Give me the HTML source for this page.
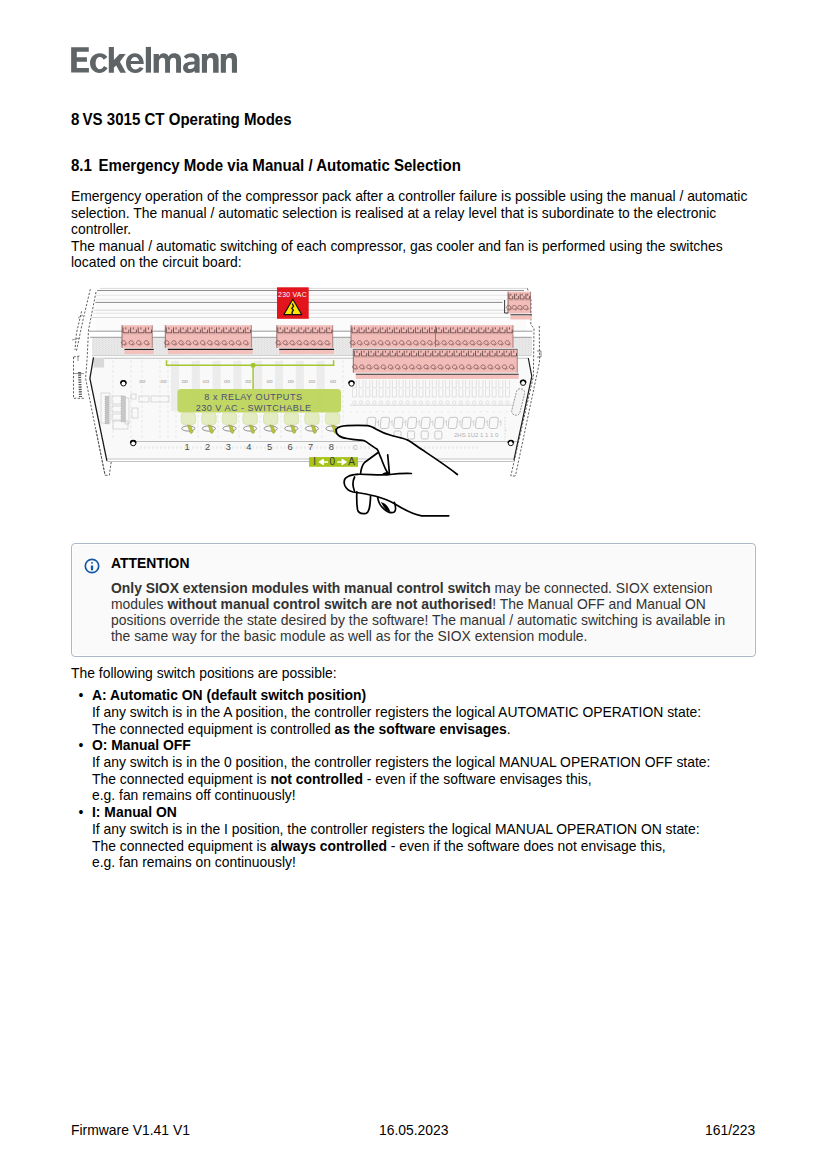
<!DOCTYPE html>
<html><head><meta charset="utf-8">
<style>
html,body{margin:0;padding:0;background:#fff;}
body{width:827px;height:1169px;position:relative;overflow:hidden;font-family:"Liberation Sans",sans-serif;color:#000;}
.l{position:absolute;white-space:nowrap;font-size:13.9px;line-height:16px;}
.h{position:absolute;white-space:nowrap;font-weight:bold;font-size:15.05px;line-height:18px;transform:scaleY(1.05);transform-origin:0 13.9px;}
b{font-weight:bold;}
.g{color:#333;}
</style></head><body>
<svg style="position:absolute;left:0;top:0" width="260" height="90" fill="#5f6467"><path d="M71.15 47.2H88.75V51.8H76.8V57.3H86.9V61.7H76.8V68H88.9V72.6H71.15Z"/><path d="M107.4 57.1C105.8 54.6 103.2 53.25 99.8 53.25C94 53.25 90 57.5 90 63.1C90 68.8 94 73 99.8 73C103.3 73 106 71.2 107.6 68.1L104 66.1C103 68 101.6 69.2 99.6 69.2C97.2 69.2 95.6 66.6 95.6 63.1C95.6 59.6 97.2 56.9 99.8 56.9C101.5 56.9 103 58 103.8 59.8Z"/><path d="M108.8 46.9H113.9V60.1L119.5 54H125.7L119.9 61.8L126 72.65H120.2L116.2 65.6L113.9 67.6V72.65H108.8Z"/><path fill-rule="evenodd" d="M143.8 64.1C143.8 57.7 140.3 53.25 134.9 53.25C129.5 53.25 126 57.5 126 63.1C126 68.9 129.6 73 135.2 73C139 73 142 71.2 143.6 68.3L139.8 66.9C138.8 68.5 137.2 69.4 135.2 69.4C132.5 69.4 130.8 67.3 130.7 64.1ZM130.8 61C131.1 58.6 132.7 56.9 134.9 56.9C137.2 56.9 138.8 58.6 139 61Z"/><rect x="145.8" y="46.9" width="5.2" height="25.75"/><path d="M153.6 54H158.9V56.2C160 54.3 161.6 53.25 163.6 53.25C166 53.25 167.6 54.4 168.6 56.4C169.8 54.4 171.6 53.25 174 53.25C178.5 53.25 181 55.6 181 59.8V72.65H176.1V61C176.1 58.9 175.2 57.8 173.4 57.8C171.4 57.8 170 59.4 170 61.8V72.65H165.1V61C165.1 58.9 164.3 57.8 162.6 57.8C160.5 57.8 158.9 59.4 158.9 61.8V72.65H153.6Z"/><path fill-rule="evenodd" d="M183.8 56.5C185.8 54.3 188.8 53.25 192 53.25C197 53.25 199.6 55.5 199.6 59.5V72.8H194.9L194.6 71C193.3 72.3 191.3 73 189 73C185.3 73 183.1 70.9 183.1 67.7C183.1 64.3 185.7 62.3 190.3 61.8L194.5 61.4V60.3C194.5 58.2 193 57.2 190.5 57.2C188.8 57.2 187.4 57.8 186.3 58.9ZM194.5 64.3L190.8 64.7C188.8 64.9 187.8 65.8 187.8 67.2C187.8 68.4 188.7 69.1 190.3 69.1C192.7 69.1 194.5 67.5 194.5 65.3Z"/><path d="M201.9 53.9H207V56.2C208.2 54.3 210 53.1 212.6 53.1C217.1 53.1 218.6 55.4 218.6 59.8V72.8H213.1V61C213.1 58.9 212.2 57.8 210.4 57.8C209 57.8 207 59.4 207 61.8V72.8H201.9Z"/><path d="M220.8 53.9H225.9V56.2C227.1 54.3 228.9 53.1 231.5 53.1C235.5 53.1 237 55.4 237 59.8V72.8H231.9V61C231.9 58.9 231.0 57.8 229.2 57.8C227.9 57.8 225.9 59.4 225.9 61.8V72.8H220.8Z"/></svg>
<svg style="position:absolute;left:0;top:0" width="827" height="560"><defs><pattern id="hatch" width="3" height="2" patternUnits="userSpaceOnUse"><rect x="0" y="0" width="0.8" height="0.8" fill="#d6d6d6"/><rect x="1.5" y="1" width="0.8" height="0.8" fill="#dcdcdc"/></pattern></defs><rect x="92" y="338" width="440" height="18" fill="#e9e9e9"/><rect x="92" y="338" width="440" height="18" fill="url(#hatch)"/><rect x="96" y="291" width="430" height="40" fill="#fbfbfb"/><line x1="100.0" y1="288.4" x2="527.4" y2="288.4" stroke="#cfcfcf" stroke-width="0.8"/><line x1="97.0" y1="290.5" x2="524.0" y2="290.5" stroke="#808080" stroke-width="0.9"/><line x1="96.0" y1="295.3" x2="524.0" y2="295.3" stroke="#e0e0e0" stroke-width="0.8"/><line x1="95.5" y1="299.4" x2="524.0" y2="299.4" stroke="#e6e6e6" stroke-width="0.8"/><line x1="95.3" y1="302.4" x2="502.4" y2="302.4" stroke="#808080" stroke-width="0.9"/><line x1="93.5" y1="310.2" x2="527.0" y2="310.2" stroke="#cfcfcf" stroke-width="0.8"/><line x1="92.3" y1="313.2" x2="527.0" y2="313.2" stroke="#dedede" stroke-width="0.8"/><line x1="91.5" y1="317.5" x2="527.0" y2="317.5" stroke="#d2d2d2" stroke-width="0.8"/><line x1="89.0" y1="331.2" x2="532.5" y2="331.2" stroke="#8c8c8c" stroke-width="0.9"/><line x1="90.0" y1="337.3" x2="531.6" y2="337.3" stroke="#8c8c8c" stroke-width="0.9"/><line x1="92.0" y1="355.6" x2="531.0" y2="355.6" stroke="#c8c8c8" stroke-width="0.8"/><line x1="93.5" y1="358.3" x2="528.0" y2="358.3" stroke="#a8a8a8" stroke-width="0.9"/><path d="M93.6 358.8 L528 358.8 L533 372 L513.5 459 L107 459 L98.6 419.5 L89.9 378.4 Z" fill="#f9f9f9"/><line x1="113" y1="360" x2="113" y2="440" stroke="#dcdcdc" stroke-width="0.6" stroke-dasharray="3 2"/><line x1="131" y1="360" x2="131" y2="440" stroke="#dcdcdc" stroke-width="0.6" stroke-dasharray="3 2"/><line x1="142" y1="360" x2="142" y2="440" stroke="#dcdcdc" stroke-width="0.6" stroke-dasharray="3 2"/><line x1="160" y1="360" x2="160" y2="440" stroke="#dcdcdc" stroke-width="0.6" stroke-dasharray="3 2"/><line x1="168" y1="360" x2="168" y2="440" stroke="#dcdcdc" stroke-width="0.6" stroke-dasharray="3 2"/><line x1="176" y1="360" x2="176" y2="440" stroke="#dcdcdc" stroke-width="0.6" stroke-dasharray="3 2"/><line x1="198" y1="360" x2="198" y2="440" stroke="#dcdcdc" stroke-width="0.6" stroke-dasharray="3 2"/><line x1="218" y1="360" x2="218" y2="440" stroke="#dcdcdc" stroke-width="0.6" stroke-dasharray="3 2"/><line x1="239" y1="360" x2="239" y2="440" stroke="#dcdcdc" stroke-width="0.6" stroke-dasharray="3 2"/><line x1="260" y1="360" x2="260" y2="440" stroke="#dcdcdc" stroke-width="0.6" stroke-dasharray="3 2"/><line x1="281" y1="360" x2="281" y2="440" stroke="#dcdcdc" stroke-width="0.6" stroke-dasharray="3 2"/><line x1="301" y1="360" x2="301" y2="440" stroke="#dcdcdc" stroke-width="0.6" stroke-dasharray="3 2"/><line x1="322" y1="360" x2="322" y2="440" stroke="#dcdcdc" stroke-width="0.6" stroke-dasharray="3 2"/><line x1="343" y1="360" x2="343" y2="440" stroke="#dcdcdc" stroke-width="0.6" stroke-dasharray="3 2"/><rect x="171.0" y="361" width="8" height="50" fill="#ececec"/><rect x="191.8" y="361" width="8" height="50" fill="#ececec"/><rect x="212.6" y="361" width="8" height="50" fill="#ececec"/><rect x="233.4" y="361" width="8" height="50" fill="#ececec"/><rect x="254.2" y="361" width="8" height="50" fill="#ececec"/><rect x="275.0" y="361" width="8" height="50" fill="#ececec"/><rect x="295.8" y="361" width="8" height="50" fill="#ececec"/><rect x="316.6" y="361" width="8" height="50" fill="#ececec"/><text x="142.3" y="383" font-size="5.5" fill="#9a9a9a" text-anchor="middle" font-family="Liberation Sans">oo</text><text x="163.5" y="383" font-size="5.5" fill="#9a9a9a" text-anchor="middle" font-family="Liberation Sans">oo</text><text x="184.7" y="383" font-size="5.5" fill="#9a9a9a" text-anchor="middle" font-family="Liberation Sans">oo</text><text x="205.9" y="383" font-size="5.5" fill="#9a9a9a" text-anchor="middle" font-family="Liberation Sans">oo</text><text x="227.1" y="383" font-size="5.5" fill="#9a9a9a" text-anchor="middle" font-family="Liberation Sans">oo</text><text x="248.3" y="383" font-size="5.5" fill="#9a9a9a" text-anchor="middle" font-family="Liberation Sans">oo</text><text x="269.5" y="383" font-size="5.5" fill="#9a9a9a" text-anchor="middle" font-family="Liberation Sans">oo</text><text x="290.7" y="383" font-size="5.5" fill="#9a9a9a" text-anchor="middle" font-family="Liberation Sans">oo</text><text x="311.9" y="383" font-size="5.5" fill="#9a9a9a" text-anchor="middle" font-family="Liberation Sans">oo</text><text x="333.1" y="383" font-size="5.5" fill="#9a9a9a" text-anchor="middle" font-family="Liberation Sans">oo</text><g fill="none" stroke="#c2c2c2" stroke-width="0.6"><rect x="101" y="393" width="9" height="30"/><rect x="112" y="396" width="12" height="8"/><rect x="112" y="406" width="12" height="6"/><rect x="112" y="414" width="12" height="6"/><rect x="125" y="398" width="4" height="26"/><rect x="113" y="421" width="15" height="8"/><rect x="132" y="408" width="6" height="10"/><rect x="131" y="394" width="5" height="5"/><rect x="139" y="396" width="10" height="6"/><rect x="151" y="396" width="18" height="6"/></g><rect x="105" y="396" width="4" height="28" fill="#c4c4c4" stroke="#aaa" stroke-width="0.5" stroke-dasharray="1 1"/><rect x="121" y="396" width="4.5" height="26" fill="#c8c8c8" stroke="#aaa" stroke-width="0.5" stroke-dasharray="1 1"/><rect x="93.5" y="358" width="10.6" height="9.5" fill="#d9d9d9"/><g fill="none" stroke="#d0d0d0" stroke-width="0.6"><path d="M352.5 380 v8 h4 v-8 M352.5 389 v8 h4 v-8"/><circle cx="354.5" cy="402.6" r="1.7"/><path d="M359.1 380 v8 h4 v-8 M359.1 389 v8 h4 v-8"/><circle cx="361.1" cy="402.6" r="1.7"/><path d="M365.8 380 v8 h4 v-8 M365.8 389 v8 h4 v-8"/><circle cx="367.8" cy="402.6" r="1.7"/><path d="M372.4 380 v8 h4 v-8 M372.4 389 v8 h4 v-8"/><circle cx="374.4" cy="402.6" r="1.7"/><path d="M379.1 380 v8 h4 v-8 M379.1 389 v8 h4 v-8"/><circle cx="381.1" cy="402.6" r="1.7"/><path d="M385.8 380 v8 h4 v-8 M385.8 389 v8 h4 v-8"/><circle cx="387.8" cy="402.6" r="1.7"/><path d="M392.4 380 v8 h4 v-8 M392.4 389 v8 h4 v-8"/><circle cx="394.4" cy="402.6" r="1.7"/><path d="M399.1 380 v8 h4 v-8 M399.1 389 v8 h4 v-8"/><circle cx="401.1" cy="402.6" r="1.7"/><path d="M405.7 380 v8 h4 v-8 M405.7 389 v8 h4 v-8"/><circle cx="407.7" cy="402.6" r="1.7"/><path d="M412.4 380 v8 h4 v-8 M412.4 389 v8 h4 v-8"/><circle cx="414.4" cy="402.6" r="1.7"/><path d="M419.0 380 v8 h4 v-8 M419.0 389 v8 h4 v-8"/><circle cx="421.0" cy="402.6" r="1.7"/><path d="M425.6 380 v8 h4 v-8 M425.6 389 v8 h4 v-8"/><circle cx="427.6" cy="402.6" r="1.7"/><path d="M432.3 380 v8 h4 v-8 M432.3 389 v8 h4 v-8"/><circle cx="434.3" cy="402.6" r="1.7"/><path d="M438.9 380 v8 h4 v-8 M438.9 389 v8 h4 v-8"/><circle cx="440.9" cy="402.6" r="1.7"/><path d="M445.6 380 v8 h4 v-8 M445.6 389 v8 h4 v-8"/><circle cx="447.6" cy="402.6" r="1.7"/><path d="M452.2 380 v8 h4 v-8 M452.2 389 v8 h4 v-8"/><circle cx="454.2" cy="402.6" r="1.7"/><path d="M458.9 380 v8 h4 v-8 M458.9 389 v8 h4 v-8"/><circle cx="460.9" cy="402.6" r="1.7"/><path d="M465.6 380 v8 h4 v-8 M465.6 389 v8 h4 v-8"/><circle cx="467.6" cy="402.6" r="1.7"/><path d="M472.2 380 v8 h4 v-8 M472.2 389 v8 h4 v-8"/><circle cx="474.2" cy="402.6" r="1.7"/><path d="M478.9 380 v8 h4 v-8 M478.9 389 v8 h4 v-8"/><circle cx="480.9" cy="402.6" r="1.7"/><path d="M485.5 380 v8 h4 v-8 M485.5 389 v8 h4 v-8"/><circle cx="487.5" cy="402.6" r="1.7"/><path d="M492.1 380 v8 h4 v-8 M492.1 389 v8 h4 v-8"/><circle cx="494.1" cy="402.6" r="1.7"/><path d="M498.8 380 v8 h4 v-8 M498.8 389 v8 h4 v-8"/><circle cx="500.8" cy="402.6" r="1.7"/><path d="M505.5 380 v8 h4 v-8 M505.5 389 v8 h4 v-8"/><circle cx="507.5" cy="402.6" r="1.7"/></g><line x1="350" y1="405.2" x2="520" y2="405.2" stroke="#cdcdcd" stroke-width="0.7"/><line x1="350" y1="411.7" x2="520" y2="411.7" stroke="#dcdcdc" stroke-width="0.7" stroke-dasharray="1.5 5"/><g fill="none" stroke="#b8b8b8" stroke-width="0.75"><rect x="367.0" y="417.3" width="8.5" height="11.2" rx="2" transform="skewX(-6)" transform-origin="371.0 423"/><path d="M376.5 422 h2 M378.5 420 v6" stroke="#c8c8c8"/><rect x="380.6" y="417.3" width="8.5" height="11.2" rx="2" transform="skewX(-6)" transform-origin="384.6 423"/><path d="M390.1 422 h2 M392.1 420 v6" stroke="#c8c8c8"/><rect x="394.2" y="417.3" width="8.5" height="11.2" rx="2" transform="skewX(-6)" transform-origin="398.2 423"/><path d="M403.7 422 h2 M405.7 420 v6" stroke="#c8c8c8"/><rect x="407.8" y="417.3" width="8.5" height="11.2" rx="2" transform="skewX(-6)" transform-origin="411.8 423"/><path d="M417.3 422 h2 M419.3 420 v6" stroke="#c8c8c8"/><rect x="421.4" y="417.3" width="8.5" height="11.2" rx="2" transform="skewX(-6)" transform-origin="425.4 423"/><path d="M430.9 422 h2 M432.9 420 v6" stroke="#c8c8c8"/><rect x="435.0" y="417.3" width="8.5" height="11.2" rx="2" transform="skewX(-6)" transform-origin="439.0 423"/><path d="M444.5 422 h2 M446.5 420 v6" stroke="#c8c8c8"/><rect x="448.6" y="417.3" width="8.5" height="11.2" rx="2" transform="skewX(-6)" transform-origin="452.6 423"/><path d="M458.1 422 h2 M460.1 420 v6" stroke="#c8c8c8"/><rect x="462.2" y="417.3" width="8.5" height="11.2" rx="2" transform="skewX(-6)" transform-origin="466.2 423"/><path d="M471.7 422 h2 M473.7 420 v6" stroke="#c8c8c8"/><rect x="475.8" y="417.3" width="8.5" height="11.2" rx="2" transform="skewX(-6)" transform-origin="479.8 423"/><path d="M485.3 422 h2 M487.3 420 v6" stroke="#c8c8c8"/><rect x="489.4" y="417.3" width="8.5" height="11.2" rx="2" transform="skewX(-6)" transform-origin="493.4 423"/><path d="M498.9 422 h2 M500.9 420 v6" stroke="#c8c8c8"/><rect x="394.0" y="431" width="7" height="8" rx="1.5"/><rect x="407.6" y="431" width="7" height="8" rx="1.5"/><rect x="421.2" y="431" width="7" height="8" rx="1.5"/><rect x="434.8" y="431" width="7" height="8" rx="1.5"/></g><text x="454" y="437.2" font-size="6" fill="#b0b0b0" font-family="Liberation Sans">2HS 1U2 1 1 1 0</text><line x1="136" y1="441.5" x2="517" y2="441.5" stroke="#b5b5b5" stroke-width="0.9"/><rect x="107" y="442" width="406" height="16.5" fill="#f9f9f9"/><line x1="140" y1="447.5" x2="480" y2="447.5" stroke="#ececec" stroke-width="2.5" stroke-dasharray="2 2"/><line x1="107" y1="459" x2="513.5" y2="459" stroke="#b8b8b8" stroke-width="0.8"/><line x1="107" y1="461.5" x2="513.5" y2="461.5" stroke="#b0b0b0" stroke-width="0.8"/><path d="M93.5 357.3 L89.9 378.4 L106.9 460.8" fill="none" stroke="#1a1a1a" stroke-width="1.3"/><path d="M90.3 289.2 L83 320 L76.2 352" fill="none" stroke="#444" stroke-width="0.85" stroke-dasharray="2.2 1.6"/><path d="M96 292 L88.5 330 L87.2 357.3 L85.6 378.4 L93.5 418.3 L105.1 475.3" fill="none" stroke="#444" stroke-width="0.85" stroke-dasharray="2.2 1.6"/><path d="M81.6 311.3 L76.5 333 L75 350" fill="none" stroke="#444" stroke-width="0.85" stroke-dasharray="2.2 1.6"/><path d="M111.2 462 L109.3 475.3 L105.1 475.3" fill="none" stroke="#444" stroke-width="0.85" stroke-dasharray="2.2 1.6"/><path d="M96 430 L105.1 475.3" fill="none" stroke="#444" stroke-width="0.85" stroke-dasharray="2.2 1.6"/><path d="M73.5 357 L73.5 398.3 L84 398.3 M73.5 357 L80 356" fill="none" stroke="#444" stroke-width="0.85" stroke-dasharray="2.2 1.6"/><path d="M79.5 372 L80.5 397" stroke="#555" stroke-width="3" stroke-dasharray="1.3 1.1" fill="none"/><path d="M74 373.5 H84 M78 356 v5 M72 340 L80 338 M78 318 l5 -3" stroke="#666" stroke-width="0.7" fill="none"/><path d="M528.3 358 L531.8 376.4 L513.9 460.1" fill="none" stroke="#1a1a1a" stroke-width="1.2"/><path d="M527.4 288.4 L531 300 L530.8 324.3 L534 328.6 L533.4 376.4 L510.8 476 L515.4 476" fill="none" stroke="#444" stroke-width="0.85" stroke-dasharray="2.2 1.6"/><path d="M539.3 326 L539.5 362 L515.4 476" fill="none" stroke="#444" stroke-width="0.85" stroke-dasharray="2.2 1.6"/><path d="M537 351 h4 v6 h-4" stroke="#555" stroke-width="0.7" fill="none"/><rect x="514" y="388.5" width="8.4" height="27" rx="4" transform="rotate(14 518.2 402)" fill="#f4f4f4" stroke="#777" stroke-width="0.7" stroke-dasharray="2 1"/><path d="M505 417 v23 M507 430 h-3" stroke="#ccc" stroke-width="0.6" stroke-dasharray="2 1.2" fill="none"/><circle cx="123.4" cy="383.4" r="2.6" fill="#fff" stroke="#111" stroke-width="1"/><path d="M120.8 383.4 a2.6 2.6 0 0 1 5.2 0" fill="none" stroke="#000" stroke-width="1.6"/><circle cx="133.2" cy="443.2" r="2.6" fill="#fff" stroke="#111" stroke-width="1"/><path d="M130.6 443.2 a2.6 2.6 0 0 1 5.2 0" fill="none" stroke="#000" stroke-width="1.6"/><circle cx="351.5" cy="383.6" r="2.6" fill="#fff" stroke="#111" stroke-width="1"/><path d="M348.9 383.6 a2.6 2.6 0 0 1 5.2 0" fill="none" stroke="#000" stroke-width="1.6"/><circle cx="523.1" cy="382.8" r="2.6" fill="#fff" stroke="#111" stroke-width="1"/><path d="M520.5 382.8 a2.6 2.6 0 0 1 5.2 0" fill="none" stroke="#000" stroke-width="1.6"/><circle cx="510.8" cy="443.1" r="2.6" fill="#fff" stroke="#111" stroke-width="1"/><path d="M508.2 443.1 a2.6 2.6 0 0 1 5.2 0" fill="none" stroke="#000" stroke-width="1.6"/><rect x="122.0" y="325.2" width="30.3" height="22.6" fill="#f2bcb8"/><line x1="122.0" y1="325.2" x2="122.0" y2="347.8" stroke="#7a5250" stroke-width="0.8"/><line x1="152.3" y1="325.2" x2="152.3" y2="347.8" stroke="#8a6260" stroke-width="0.7"/><path d="M123.0 327.4 v5.4 h5.8 v-3.2 M125.8 327.4 v2M130.6 327.4 v5.4 h5.8 v-3.2 M133.4 327.4 v2M138.2 327.4 v5.4 h5.8 v-3.2 M140.9 327.4 v2M145.7 327.4 v5.4 h5.8 v-3.2 M148.5 327.4 v2" stroke="#4a3232" stroke-width="0.75" fill="none"/><line x1="122.5" y1="333.8" x2="151.8" y2="333.8" stroke="#d6a4a0" stroke-width="1"/><path d="M123.6 344.5 a2.2 1.9 0 1 1 0.01 0 M124.4 345.5 l2.8 -1.9M131.2 344.5 a2.2 1.9 0 1 1 0.01 0 M132.0 345.5 l2.8 -1.9M138.7 344.5 a2.2 1.9 0 1 1 0.01 0 M139.5 345.5 l2.8 -1.9M146.3 344.5 a2.2 1.9 0 1 1 0.01 0 M147.1 345.5 l2.8 -1.9" stroke="#6a4646" stroke-width="0.65" fill="none"/><line x1="124.5" y1="349.4" x2="153.7" y2="349.4" stroke="#151515" stroke-width="1.1"/><rect x="124.5" y="350.0" width="29.2" height="4" fill="#f3c0bc"/><rect x="165.3" y="325.2" width="86.1" height="22.6" fill="#f2bcb8"/><line x1="165.3" y1="325.2" x2="165.3" y2="347.8" stroke="#7a5250" stroke-width="0.8"/><line x1="251.4" y1="325.2" x2="251.4" y2="347.8" stroke="#8a6260" stroke-width="0.7"/><path d="M166.3 327.4 v5.4 h5.4 v-3.2 M168.9 327.4 v2M173.5 327.4 v5.4 h5.4 v-3.2 M176.1 327.4 v2M180.7 327.4 v5.4 h5.4 v-3.2 M183.2 327.4 v2M187.8 327.4 v5.4 h5.4 v-3.2 M190.4 327.4 v2M195.0 327.4 v5.4 h5.4 v-3.2 M197.6 327.4 v2M202.2 327.4 v5.4 h5.4 v-3.2 M204.8 327.4 v2M209.4 327.4 v5.4 h5.4 v-3.2 M211.9 327.4 v2M216.5 327.4 v5.4 h5.4 v-3.2 M219.1 327.4 v2M223.7 327.4 v5.4 h5.4 v-3.2 M226.3 327.4 v2M230.9 327.4 v5.4 h5.4 v-3.2 M233.5 327.4 v2M238.1 327.4 v5.4 h5.4 v-3.2 M240.6 327.4 v2M245.2 327.4 v5.4 h5.4 v-3.2 M247.8 327.4 v2" stroke="#4a3232" stroke-width="0.75" fill="none"/><line x1="165.8" y1="333.8" x2="250.9" y2="333.8" stroke="#d6a4a0" stroke-width="1"/><path d="M166.7 344.5 a2.2 1.9 0 1 1 0.01 0 M167.5 345.5 l2.8 -1.9M173.9 344.5 a2.2 1.9 0 1 1 0.01 0 M174.7 345.5 l2.8 -1.9M181.0 344.5 a2.2 1.9 0 1 1 0.01 0 M181.8 345.5 l2.8 -1.9M188.2 344.5 a2.2 1.9 0 1 1 0.01 0 M189.0 345.5 l2.8 -1.9M195.4 344.5 a2.2 1.9 0 1 1 0.01 0 M196.2 345.5 l2.8 -1.9M202.6 344.5 a2.2 1.9 0 1 1 0.01 0 M203.4 345.5 l2.8 -1.9M209.7 344.5 a2.2 1.9 0 1 1 0.01 0 M210.5 345.5 l2.8 -1.9M216.9 344.5 a2.2 1.9 0 1 1 0.01 0 M217.7 345.5 l2.8 -1.9M224.1 344.5 a2.2 1.9 0 1 1 0.01 0 M224.9 345.5 l2.8 -1.9M231.3 344.5 a2.2 1.9 0 1 1 0.01 0 M232.1 345.5 l2.8 -1.9M238.4 344.5 a2.2 1.9 0 1 1 0.01 0 M239.2 345.5 l2.8 -1.9M245.6 344.5 a2.2 1.9 0 1 1 0.01 0 M246.4 345.5 l2.8 -1.9" stroke="#6a4646" stroke-width="0.65" fill="none"/><line x1="167.8" y1="349.4" x2="252.8" y2="349.4" stroke="#151515" stroke-width="1.1"/><rect x="167.8" y="350.0" width="85.0" height="4" fill="#f3c0bc"/><rect x="276.8" y="325.2" width="55.9" height="22.6" fill="#f2bcb8"/><line x1="276.8" y1="325.2" x2="276.8" y2="347.8" stroke="#7a5250" stroke-width="0.8"/><line x1="332.7" y1="325.2" x2="332.7" y2="347.8" stroke="#8a6260" stroke-width="0.7"/><path d="M277.8 327.4 v5.4 h5.2 v-3.2 M280.3 327.4 v2M284.8 327.4 v5.4 h5.2 v-3.2 M287.3 327.4 v2M291.8 327.4 v5.4 h5.2 v-3.2 M294.3 327.4 v2M298.8 327.4 v5.4 h5.2 v-3.2 M301.3 327.4 v2M305.8 327.4 v5.4 h5.2 v-3.2 M308.2 327.4 v2M312.7 327.4 v5.4 h5.2 v-3.2 M315.2 327.4 v2M319.7 327.4 v5.4 h5.2 v-3.2 M322.2 327.4 v2M326.7 327.4 v5.4 h5.2 v-3.2 M329.2 327.4 v2" stroke="#4a3232" stroke-width="0.75" fill="none"/><line x1="277.3" y1="333.8" x2="332.2" y2="333.8" stroke="#d6a4a0" stroke-width="1"/><path d="M278.1 344.5 a2.2 1.9 0 1 1 0.01 0 M278.9 345.5 l2.8 -1.9M285.1 344.5 a2.2 1.9 0 1 1 0.01 0 M285.9 345.5 l2.8 -1.9M292.1 344.5 a2.2 1.9 0 1 1 0.01 0 M292.9 345.5 l2.8 -1.9M299.1 344.5 a2.2 1.9 0 1 1 0.01 0 M299.9 345.5 l2.8 -1.9M306.0 344.5 a2.2 1.9 0 1 1 0.01 0 M306.8 345.5 l2.8 -1.9M313.0 344.5 a2.2 1.9 0 1 1 0.01 0 M313.8 345.5 l2.8 -1.9M320.0 344.5 a2.2 1.9 0 1 1 0.01 0 M320.8 345.5 l2.8 -1.9M327.0 344.5 a2.2 1.9 0 1 1 0.01 0 M327.8 345.5 l2.8 -1.9" stroke="#6a4646" stroke-width="0.65" fill="none"/><line x1="279.3" y1="349.4" x2="334.1" y2="349.4" stroke="#151515" stroke-width="1.1"/><rect x="279.3" y="350.0" width="54.8" height="4" fill="#f3c0bc"/><rect x="351.0" y="325.2" width="162.0" height="22.6" fill="#f2bcb8"/><line x1="351.0" y1="325.2" x2="351.0" y2="347.8" stroke="#7a5250" stroke-width="0.8"/><line x1="513.0" y1="325.2" x2="513.0" y2="347.8" stroke="#8a6260" stroke-width="0.7"/><path d="M352.0 327.4 v5.4 h5.2 v-3.2 M354.5 327.4 v2M359.0 327.4 v5.4 h5.2 v-3.2 M361.6 327.4 v2M366.1 327.4 v5.4 h5.2 v-3.2 M368.6 327.4 v2M373.1 327.4 v5.4 h5.2 v-3.2 M375.7 327.4 v2M380.2 327.4 v5.4 h5.2 v-3.2 M382.7 327.4 v2M387.2 327.4 v5.4 h5.2 v-3.2 M389.7 327.4 v2M394.3 327.4 v5.4 h5.2 v-3.2 M396.8 327.4 v2M401.3 327.4 v5.4 h5.2 v-3.2 M403.8 327.4 v2M408.3 327.4 v5.4 h5.2 v-3.2 M410.9 327.4 v2M415.4 327.4 v5.4 h5.2 v-3.2 M417.9 327.4 v2M422.4 327.4 v5.4 h5.2 v-3.2 M425.0 327.4 v2M429.5 327.4 v5.4 h5.2 v-3.2 M432.0 327.4 v2M436.5 327.4 v5.4 h5.2 v-3.2 M439.0 327.4 v2M443.6 327.4 v5.4 h5.2 v-3.2 M446.1 327.4 v2M450.6 327.4 v5.4 h5.2 v-3.2 M453.1 327.4 v2M457.7 327.4 v5.4 h5.2 v-3.2 M460.2 327.4 v2M464.7 327.4 v5.4 h5.2 v-3.2 M467.2 327.4 v2M471.7 327.4 v5.4 h5.2 v-3.2 M474.3 327.4 v2M478.8 327.4 v5.4 h5.2 v-3.2 M481.3 327.4 v2M485.8 327.4 v5.4 h5.2 v-3.2 M488.3 327.4 v2M492.9 327.4 v5.4 h5.2 v-3.2 M495.4 327.4 v2M499.9 327.4 v5.4 h5.2 v-3.2 M502.4 327.4 v2M507.0 327.4 v5.4 h5.2 v-3.2 M509.5 327.4 v2" stroke="#4a3232" stroke-width="0.75" fill="none"/><line x1="351.5" y1="333.8" x2="512.5" y2="333.8" stroke="#d6a4a0" stroke-width="1"/><path d="M352.3 344.5 a2.2 1.9 0 1 1 0.01 0 M353.1 345.5 l2.8 -1.9M359.4 344.5 a2.2 1.9 0 1 1 0.01 0 M360.2 345.5 l2.8 -1.9M366.4 344.5 a2.2 1.9 0 1 1 0.01 0 M367.2 345.5 l2.8 -1.9M373.5 344.5 a2.2 1.9 0 1 1 0.01 0 M374.3 345.5 l2.8 -1.9M380.5 344.5 a2.2 1.9 0 1 1 0.01 0 M381.3 345.5 l2.8 -1.9M387.5 344.5 a2.2 1.9 0 1 1 0.01 0 M388.3 345.5 l2.8 -1.9M394.6 344.5 a2.2 1.9 0 1 1 0.01 0 M395.4 345.5 l2.8 -1.9M401.6 344.5 a2.2 1.9 0 1 1 0.01 0 M402.4 345.5 l2.8 -1.9M408.7 344.5 a2.2 1.9 0 1 1 0.01 0 M409.5 345.5 l2.8 -1.9M415.7 344.5 a2.2 1.9 0 1 1 0.01 0 M416.5 345.5 l2.8 -1.9M422.8 344.5 a2.2 1.9 0 1 1 0.01 0 M423.6 345.5 l2.8 -1.9M429.8 344.5 a2.2 1.9 0 1 1 0.01 0 M430.6 345.5 l2.8 -1.9M436.8 344.5 a2.2 1.9 0 1 1 0.01 0 M437.6 345.5 l2.8 -1.9M443.9 344.5 a2.2 1.9 0 1 1 0.01 0 M444.7 345.5 l2.8 -1.9M450.9 344.5 a2.2 1.9 0 1 1 0.01 0 M451.7 345.5 l2.8 -1.9M458.0 344.5 a2.2 1.9 0 1 1 0.01 0 M458.8 345.5 l2.8 -1.9M465.0 344.5 a2.2 1.9 0 1 1 0.01 0 M465.8 345.5 l2.8 -1.9M472.1 344.5 a2.2 1.9 0 1 1 0.01 0 M472.9 345.5 l2.8 -1.9M479.1 344.5 a2.2 1.9 0 1 1 0.01 0 M479.9 345.5 l2.8 -1.9M486.1 344.5 a2.2 1.9 0 1 1 0.01 0 M486.9 345.5 l2.8 -1.9M493.2 344.5 a2.2 1.9 0 1 1 0.01 0 M494.0 345.5 l2.8 -1.9M500.2 344.5 a2.2 1.9 0 1 1 0.01 0 M501.0 345.5 l2.8 -1.9M507.3 344.5 a2.2 1.9 0 1 1 0.01 0 M508.1 345.5 l2.8 -1.9" stroke="#6a4646" stroke-width="0.65" fill="none"/><line x1="435.5" y1="326" x2="435.5" y2="347" stroke="#6a4a48" stroke-width="0.6"/><line x1="438" y1="350" x2="438" y2="372" stroke="#6a4a48" stroke-width="0.6"/><rect x="353.3" y="349.2" width="164.0" height="23.5" fill="#f2bcb8"/><line x1="353.3" y1="349.2" x2="353.3" y2="372.7" stroke="#7a5250" stroke-width="0.8"/><line x1="517.3" y1="349.2" x2="517.3" y2="372.7" stroke="#8a6260" stroke-width="0.7"/><path d="M354.3 350.7 v5.4 h5.3 v-3.2 M356.9 350.7 v2M361.4 350.7 v5.4 h5.3 v-3.2 M364.0 350.7 v2M368.6 350.7 v5.4 h5.3 v-3.2 M371.1 350.7 v2M375.7 350.7 v5.4 h5.3 v-3.2 M378.3 350.7 v2M382.8 350.7 v5.4 h5.3 v-3.2 M385.4 350.7 v2M390.0 350.7 v5.4 h5.3 v-3.2 M392.5 350.7 v2M397.1 350.7 v5.4 h5.3 v-3.2 M399.6 350.7 v2M404.2 350.7 v5.4 h5.3 v-3.2 M406.8 350.7 v2M411.3 350.7 v5.4 h5.3 v-3.2 M413.9 350.7 v2M418.5 350.7 v5.4 h5.3 v-3.2 M421.0 350.7 v2M425.6 350.7 v5.4 h5.3 v-3.2 M428.2 350.7 v2M432.7 350.7 v5.4 h5.3 v-3.2 M435.3 350.7 v2M439.9 350.7 v5.4 h5.3 v-3.2 M442.4 350.7 v2M447.0 350.7 v5.4 h5.3 v-3.2 M449.6 350.7 v2M454.1 350.7 v5.4 h5.3 v-3.2 M456.7 350.7 v2M461.3 350.7 v5.4 h5.3 v-3.2 M463.8 350.7 v2M468.4 350.7 v5.4 h5.3 v-3.2 M471.0 350.7 v2M475.5 350.7 v5.4 h5.3 v-3.2 M478.1 350.7 v2M482.6 350.7 v5.4 h5.3 v-3.2 M485.2 350.7 v2M489.8 350.7 v5.4 h5.3 v-3.2 M492.3 350.7 v2M496.9 350.7 v5.4 h5.3 v-3.2 M499.5 350.7 v2M504.0 350.7 v5.4 h5.3 v-3.2 M506.6 350.7 v2M511.2 350.7 v5.4 h5.3 v-3.2 M513.7 350.7 v2" stroke="#4a3232" stroke-width="0.75" fill="none"/><line x1="353.8" y1="357.1" x2="516.8" y2="357.1" stroke="#d6a4a0" stroke-width="1"/><path d="M354.7 368.7 a2.2 1.9 0 1 1 0.01 0 M355.5 369.7 l2.8 -1.9M361.8 368.7 a2.2 1.9 0 1 1 0.01 0 M362.6 369.7 l2.8 -1.9M368.9 368.7 a2.2 1.9 0 1 1 0.01 0 M369.7 369.7 l2.8 -1.9M376.1 368.7 a2.2 1.9 0 1 1 0.01 0 M376.9 369.7 l2.8 -1.9M383.2 368.7 a2.2 1.9 0 1 1 0.01 0 M384.0 369.7 l2.8 -1.9M390.3 368.7 a2.2 1.9 0 1 1 0.01 0 M391.1 369.7 l2.8 -1.9M397.4 368.7 a2.2 1.9 0 1 1 0.01 0 M398.2 369.7 l2.8 -1.9M404.6 368.7 a2.2 1.9 0 1 1 0.01 0 M405.4 369.7 l2.8 -1.9M411.7 368.7 a2.2 1.9 0 1 1 0.01 0 M412.5 369.7 l2.8 -1.9M418.8 368.7 a2.2 1.9 0 1 1 0.01 0 M419.6 369.7 l2.8 -1.9M426.0 368.7 a2.2 1.9 0 1 1 0.01 0 M426.8 369.7 l2.8 -1.9M433.1 368.7 a2.2 1.9 0 1 1 0.01 0 M433.9 369.7 l2.8 -1.9M440.2 368.7 a2.2 1.9 0 1 1 0.01 0 M441.0 369.7 l2.8 -1.9M447.4 368.7 a2.2 1.9 0 1 1 0.01 0 M448.2 369.7 l2.8 -1.9M454.5 368.7 a2.2 1.9 0 1 1 0.01 0 M455.3 369.7 l2.8 -1.9M461.6 368.7 a2.2 1.9 0 1 1 0.01 0 M462.4 369.7 l2.8 -1.9M468.8 368.7 a2.2 1.9 0 1 1 0.01 0 M469.6 369.7 l2.8 -1.9M475.9 368.7 a2.2 1.9 0 1 1 0.01 0 M476.7 369.7 l2.8 -1.9M483.0 368.7 a2.2 1.9 0 1 1 0.01 0 M483.8 369.7 l2.8 -1.9M490.1 368.7 a2.2 1.9 0 1 1 0.01 0 M490.9 369.7 l2.8 -1.9M497.3 368.7 a2.2 1.9 0 1 1 0.01 0 M498.1 369.7 l2.8 -1.9M504.4 368.7 a2.2 1.9 0 1 1 0.01 0 M505.2 369.7 l2.8 -1.9M511.5 368.7 a2.2 1.9 0 1 1 0.01 0 M512.3 369.7 l2.8 -1.9" stroke="#6a4646" stroke-width="0.65" fill="none"/><line x1="355.8" y1="374.3" x2="518.7" y2="374.3" stroke="#151515" stroke-width="1.1"/><rect x="355.8" y="374.9" width="162.9" height="4" fill="#f3c0bc"/><line x1="353.3" y1="349.4" x2="517.3" y2="349.4" stroke="#555" stroke-width="0.8"/><rect x="508.0" y="291.7" width="22.5" height="21.6" fill="#f2bcb8"/><line x1="508.0" y1="291.7" x2="508.0" y2="313.3" stroke="#7a5250" stroke-width="0.8"/><line x1="530.5" y1="291.7" x2="530.5" y2="313.3" stroke="#8a6260" stroke-width="0.7"/><path d="M509.0 293.7 v5.4 h3.8 v-3.2 M510.8 293.7 v2M514.6 293.7 v5.4 h3.8 v-3.2 M516.4 293.7 v2M520.2 293.7 v5.4 h3.8 v-3.2 M522.1 293.7 v2M525.9 293.7 v5.4 h3.8 v-3.2 M527.7 293.7 v2" stroke="#4a3232" stroke-width="0.75" fill="none"/><line x1="508.5" y1="300.1" x2="530.0" y2="300.1" stroke="#d6a4a0" stroke-width="1"/><path d="M508.6 309.3 a2.2 1.9 0 1 1 0.01 0 M509.4 310.3 l2.8 -1.9M514.2 309.3 a2.2 1.9 0 1 1 0.01 0 M515.0 310.3 l2.8 -1.9M519.9 309.3 a2.2 1.9 0 1 1 0.01 0 M520.7 310.3 l2.8 -1.9M525.5 309.3 a2.2 1.9 0 1 1 0.01 0 M526.3 310.3 l2.8 -1.9" stroke="#6a4646" stroke-width="0.65" fill="none"/><line x1="510.5" y1="314.9" x2="531.9" y2="314.9" stroke="#151515" stroke-width="1.1"/><rect x="510.5" y="315.5" width="21.4" height="4" fill="#f3c0bc"/><path d="M504.6 300 V313 H508" fill="none" stroke="#222" stroke-width="0.9"/><rect x="277" y="287.3" width="31.7" height="31.5" fill="#e2141c"/><text x="292.5" y="296.8" font-size="6.9" fill="#fff" text-anchor="middle" font-family="Liberation Sans" letter-spacing="0.25">230 VAC</text><path d="M292.8 299.2 L301.8 314.6 H283.8 Z" fill="#ffe500" stroke="#111" stroke-width="1.1" stroke-linejoin="round"/><path d="M292.3 303.6 L293.5 306.4 L291.7 308.3 L293.4 310.2 L291.9 312.3 L292.4 314" fill="none" stroke="#111" stroke-width="1.3"/><path d="M166.5 360.3 V365.2 H333.6 V360.3" fill="none" stroke="#a3c631" stroke-width="1.5"/><line x1="253.1" y1="365.2" x2="253.1" y2="389" stroke="#a3c631" stroke-width="1.5"/><circle cx="253.1" cy="365.2" r="2.5" fill="#a3c631"/><rect x="177.4" y="389" width="163.6" height="23.4" rx="3.5" fill="#b8d24c" opacity="0.86"/><text x="204.3" y="399.7" font-size="9.1" fill="#4b4e74" textLength="97.8" lengthAdjust="spacing" font-family="Liberation Sans">8 x RELAY OUTPUTS</text><text x="195.7" y="410.8" font-size="9.1" fill="#4b4e74" textLength="115.3" lengthAdjust="spacing" font-family="Liberation Sans">230 V AC - SWITCHABLE</text><rect x="181.1" y="412.6" width="14.5" height="12" rx="3.5" fill="#e3ebc0" stroke="#cfdca0" stroke-width="0.6"/><ellipse cx="188.3" cy="428.5" rx="6.6" ry="2.6" fill="none" stroke="#666" stroke-width="0.7"/><path d="M187.5 425 L189.9 432.6 Q191.5 434.6 192.9 432 L190.9 426Z" fill="#b9c43c" stroke="#8f9a2a" stroke-width="0.5"/><text x="187.1" y="450" font-size="9.3" fill="#4a4a4a" text-anchor="middle" font-family="Liberation Sans">1</text><rect x="201.7" y="412.6" width="14.5" height="12" rx="3.5" fill="#e3ebc0" stroke="#cfdca0" stroke-width="0.6"/><ellipse cx="208.9" cy="428.5" rx="6.6" ry="2.6" fill="none" stroke="#666" stroke-width="0.7"/><path d="M208.1 425 L210.5 432.6 Q212.1 434.6 213.5 432 L211.5 426Z" fill="#b9c43c" stroke="#8f9a2a" stroke-width="0.5"/><text x="207.7" y="450" font-size="9.3" fill="#4a4a4a" text-anchor="middle" font-family="Liberation Sans">2</text><rect x="222.3" y="412.6" width="14.5" height="12" rx="3.5" fill="#e3ebc0" stroke="#cfdca0" stroke-width="0.6"/><ellipse cx="229.5" cy="428.5" rx="6.6" ry="2.6" fill="none" stroke="#666" stroke-width="0.7"/><path d="M228.7 425 L231.1 432.6 Q232.7 434.6 234.1 432 L232.1 426Z" fill="#b9c43c" stroke="#8f9a2a" stroke-width="0.5"/><text x="228.3" y="450" font-size="9.3" fill="#4a4a4a" text-anchor="middle" font-family="Liberation Sans">3</text><rect x="242.9" y="412.6" width="14.5" height="12" rx="3.5" fill="#e3ebc0" stroke="#cfdca0" stroke-width="0.6"/><ellipse cx="250.1" cy="428.5" rx="6.6" ry="2.6" fill="none" stroke="#666" stroke-width="0.7"/><path d="M249.3 425 L251.7 432.6 Q253.3 434.6 254.7 432 L252.7 426Z" fill="#b9c43c" stroke="#8f9a2a" stroke-width="0.5"/><text x="248.9" y="450" font-size="9.3" fill="#4a4a4a" text-anchor="middle" font-family="Liberation Sans">4</text><rect x="263.5" y="412.6" width="14.5" height="12" rx="3.5" fill="#e3ebc0" stroke="#cfdca0" stroke-width="0.6"/><ellipse cx="270.7" cy="428.5" rx="6.6" ry="2.6" fill="none" stroke="#666" stroke-width="0.7"/><path d="M269.9 425 L272.3 432.6 Q273.9 434.6 275.3 432 L273.3 426Z" fill="#b9c43c" stroke="#8f9a2a" stroke-width="0.5"/><text x="269.5" y="450" font-size="9.3" fill="#4a4a4a" text-anchor="middle" font-family="Liberation Sans">5</text><rect x="284.1" y="412.6" width="14.5" height="12" rx="3.5" fill="#e3ebc0" stroke="#cfdca0" stroke-width="0.6"/><ellipse cx="291.3" cy="428.5" rx="6.6" ry="2.6" fill="none" stroke="#666" stroke-width="0.7"/><path d="M290.5 425 L292.9 432.6 Q294.5 434.6 295.9 432 L293.9 426Z" fill="#b9c43c" stroke="#8f9a2a" stroke-width="0.5"/><text x="290.1" y="450" font-size="9.3" fill="#4a4a4a" text-anchor="middle" font-family="Liberation Sans">6</text><rect x="304.7" y="412.6" width="14.5" height="12" rx="3.5" fill="#e3ebc0" stroke="#cfdca0" stroke-width="0.6"/><ellipse cx="311.9" cy="428.5" rx="6.6" ry="2.6" fill="none" stroke="#666" stroke-width="0.7"/><path d="M311.1 425 L313.5 432.6 Q315.1 434.6 316.5 432 L314.5 426Z" fill="#b9c43c" stroke="#8f9a2a" stroke-width="0.5"/><text x="310.7" y="450" font-size="9.3" fill="#4a4a4a" text-anchor="middle" font-family="Liberation Sans">7</text><rect x="325.3" y="412.6" width="14.5" height="12" rx="3.5" fill="#e3ebc0" stroke="#cfdca0" stroke-width="0.6"/><ellipse cx="332.5" cy="428.5" rx="6.6" ry="2.6" fill="none" stroke="#666" stroke-width="0.7"/><path d="M331.7 425 L334.1 432.6 Q335.7 434.6 337.1 432 L335.1 426Z" fill="#b9c43c" stroke="#8f9a2a" stroke-width="0.5"/><text x="331.3" y="450" font-size="9.3" fill="#4a4a4a" text-anchor="middle" font-family="Liberation Sans">8</text><text x="353" y="450.3" font-size="9" fill="#bbb" font-family="Liberation Sans">c</text><rect x="309.1" y="457.1" width="48.9" height="9.7" fill="#a7c41b"/><g font-size="10" fill="#3a3a3a" text-anchor="middle" font-family="Liberation Sans"><text x="314.6" y="465.3">I</text><text x="332.4" y="465.3">0</text><text x="351.6" y="465.3">A</text></g><path d="M328 462 H322.5 M323.2 459.5 L319.2 462 L323.2 464.5Z" stroke="#fff" stroke-width="1.3" fill="#fff" stroke-linejoin="round"/><path d="M337.2 462 H342.5 M342.2 459.5 L346.2 462 L342.2 464.5Z" stroke="#fff" stroke-width="1.3" fill="#fff" stroke-linejoin="round"/><path d="M336.1 429.5 C338 426 345 425.6 352 425.6 C360 425.6 367.8 425.6 376.3 429.3 C382 432 386 434 390.8 435.3 C398 437.5 403 438 407.7 440.1 C414 443 418 447 422.2 449.8 C432 456 445 465 458 474 L460 516 L448.7 515.8 L421.6 515.8 C410 510 400 505 394.5 501.4 L375.9 496.3 L349.6 491.3 C344 488 343 480 348.8 476 L357.2 474.3 C358 468 361 462 364 460.8 L377.6 452.3 L370.8 446.4 L360.6 440.5 L347.1 439.6 C340 438 336 434 336.1 429.5Z" fill="#fff"/><g fill="none" stroke="#000" stroke-width="1.7" stroke-linecap="round" stroke-linejoin="round"><path d="M336.1 429.5 C338 426.5 343 425.8 347.3 425.6 C354 425.3 362 425.3 367.8 425.6 C371 426 373.5 427.5 376.3 429.3 C381 432 386 434 390.8 435.3 C397 437 403 438 407.7 440.1 C413 443 417.5 447 422.2 449.8 C433 457 446 465.5 457.4 474.5"/><path d="M336.1 429.5 C335.8 434 339.5 437.5 347.1 438.5 C352 439.5 356 439.8 360.6 440.2 C363 440.4 364.5 440.6 366 441.6 C370 444.5 373.5 447 377.2 449.3 C378.5 451 379 454 381 458 C383 463 385 469 387.5 472.5"/><path d="M377.8 452.8 L364.5 462.5 C362 465.5 361 469 360.6 473.5"/><path d="M387.7 454.9 C388.3 461 388.9 467 389.4 474"/><path d="M357.2 474.3 C368 474 380 475.5 390 474.5 C398 473.5 404 473.3 411.4 473.5"/><path d="M357.2 474.3 C352 474.6 350 475.3 348.5 476.3 C344.2 478 343.6 482 344.8 485.5 C346.2 489 349 491 353 492 C362 493.3 369 494.5 375.9 496.3 C384 498.5 390 501 395 504 C403 509 411 514 421.6 515.8 L448.7 515.8"/><path d="M354.6 477 C352.6 481 352.4 486 354.5 491.3"/><path d="M356.8 491.8 C356.6 498 356.7 505 357.5 509.5 C358.3 513 362 514 366 513.3 C369.5 512.5 370.2 505 370.6 496"/><path d="M377.6 497 C378.2 502 380.2 506 384 509 C387.2 511.6 391.3 513.8 394.2 512 C396.2 510.4 395.6 506 394.3 502.3"/></g><path d="M382.5 503.5 C385 504.5 387.5 507 389 510.5 C387 510 384.5 507.5 382.5 503.5Z" stroke="#000" stroke-width="1.6" fill="#000"/><path d="M382.5 473.5 Q386 471 389.5 472.5 L390 475 Q386 476 382.5 474.5Z" fill="#000"/></svg>

<div class="h" id="h1" style="left:71px;top:111px;">8<span style="margin-left:-1px">&nbsp;</span>VS 3015 CT Operating Modes</div>
<div class="h" id="h2" style="left:71px;top:157px;">8.1<span style="margin-left:-1.8px">&nbsp;</span> Emergency Mode via Manual / Automatic Selection</div>

<div class="l" style="left:71px;top:188px;">Emergency operation of the compressor pack after a controller failure is possible using the manual / automatic</div>
<div class="l" style="left:71px;top:204.5px;">selection. The manual / automatic selection is realised at a relay level that is subordinate to the electronic</div>
<div class="l" style="left:71px;top:221px;">controller.</div>
<div class="l" style="left:71px;top:237.5px;">The manual / automatic switching of each compressor, gas cooler and fan is performed using the switches</div>
<div class="l" style="left:71px;top:254px;">located on the circuit board:</div>


<!-- attention box -->
<div id="att" style="position:absolute;left:70.9px;top:542.7px;width:685.1px;height:114px;border:1.5px solid #acb9c9;border-radius:4px;background:#fafafa;box-shadow:inset 0 0 0 0.7px #fff;box-sizing:border-box;"></div>
<svg style="position:absolute;left:83.5px;top:557.8px" width="16" height="16" viewBox="0 0 16 16"><circle cx="8" cy="8" r="6.7" fill="none" stroke="#1757a8" stroke-width="1.7"/><path d="M6.85 7.6H9.15V11.4Q9.15 12.4 8 12.4Q6.85 12.4 6.85 11.4Z" fill="#1757a8"/><path d="M8 3.75L9.2 4.9L8 6.05L6.8 4.9Z" fill="#1757a8"/></svg>
<div class="l" style="left:111px;top:555px;font-weight:bold;">ATTENTION</div>
<div class="l g" style="left:111px;top:580px;"><b>Only SIOX extension modules with manual control switch</b> may be connected. SIOX extension</div>
<div class="l g" style="left:111px;top:596px;">modules <b>without manual control switch are not authorised</b>! The Manual OFF and Manual ON</div>
<div class="l g" style="left:111px;top:612px;">positions override the state desired by the software! The manual / automatic switching is available in</div>
<div class="l g" style="left:111px;top:628px;">the same way for the basic module as well as for the SIOX extension module.</div>

<div class="l" style="left:71px;top:665px;">The following switch positions are possible:</div>
<div class="l" style="left:78.5px;top:687px;">•</div>
<div class="l" style="left:92px;top:687px;font-weight:bold;">A: Automatic ON (default switch position)</div>
<div class="l" style="left:92px;top:704px;">If any switch is in the A position, the controller registers the logical AUTOMATIC OPERATION state:</div>
<div class="l" style="left:92px;top:720.5px;">The connected equipment is controlled <b>as the software envisages</b>.</div>
<div class="l" style="left:78.5px;top:737px;">•</div>
<div class="l" style="left:92px;top:737px;font-weight:bold;">O: Manual OFF</div>
<div class="l" style="left:92px;top:754px;">If any switch is in the 0 position, the controller registers the logical MANUAL OPERATION OFF state:</div>
<div class="l" style="left:92px;top:770.5px;">The connected equipment is <b>not controlled</b> - even if the software envisages this,</div>
<div class="l" style="left:92px;top:787px;">e.g. fan remains off continuously!</div>
<div class="l" style="left:78.5px;top:804px;">•</div>
<div class="l" style="left:92px;top:804px;font-weight:bold;">I: Manual ON</div>
<div class="l" style="left:92px;top:821px;">If any switch is in the I position, the controller registers the logical MANUAL OPERATION ON state:</div>
<div class="l" style="left:92px;top:837.5px;">The connected equipment is <b>always controlled</b> - even if the software does not envisage this,</div>
<div class="l" style="left:92px;top:854px;">e.g. fan remains on continuously!</div>

<!-- footer -->
<div class="l" style="left:71px;top:1122px;">Firmware V1.41 V1</div>
<div class="l" style="left:379px;top:1122px;">16.05.2023</div>
<div class="l" style="left:705px;top:1122px;">161/223</div>
</body></html>
